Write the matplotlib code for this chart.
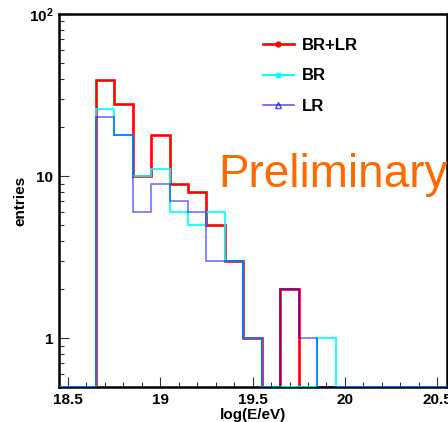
import numpy as np
import matplotlib
matplotlib.use("Agg")
import matplotlib.pyplot as plt
from matplotlib.lines import Line2D
from matplotlib.ticker import LogLocator, NullFormatter

plt.rcParams['font.family'] = ['Liberation Sans', 'DejaVu Sans']
plt.rcParams['mathtext.fontset'] = 'custom'
plt.rcParams['mathtext.bf'] = 'Liberation Sans:bold'
plt.rcParams['mathtext.rm'] = 'Liberation Sans:bold'

# 0.1-wide bins in log10(E/eV), 18.45 .. 20.55
bin_edges = np.round(np.arange(18.45, 20.56, 0.1), 2)
entries_br_lr = [0, 0, 39, 28, 10, 18, 9, 8, 5, 3, 1, 0, 2, 0, 0, 0, 0, 0, 0, 0, 0]
entries_br = [0, 0, 26, 18, 10, 11, 6, 5, 6, 3, 1, 0, 0, 0, 1, 0, 0, 0, 0, 0, 0]
entries_lr = [0, 0, 23, 18, 6, 9, 7, 6, 3, 3, 1, 0, 2, 1, 0, 0, 0, 0, 0, 0, 0]

YMIN, YMAX = 0.5, 100.0

fig = plt.figure(figsize=(4.48, 4.22), dpi=100)
ax = fig.add_axes([58.8 / 448, 35 / 422, (446.5 - 58.8) / 448, (387 - 14) / 422])
ax.set_yscale('log')


def draw_hist(vals, **kw):
    # empty bins sit on the lower frame edge, like ROOT's log view
    v = np.clip(np.asarray(vals, dtype=float), YMIN, None)
    ax.stairs(v, bin_edges, baseline=None, **kw)


draw_hist(entries_br_lr, color='#ff0000', lw=1.9, zorder=2)
draw_hist(entries_br, color='#00ffff', lw=1.5, alpha=0.85, zorder=3)
draw_hist(entries_lr, color='#0000ff', lw=1.1, alpha=0.6, zorder=4)

ax.set_xlim(18.45, 20.55)
ax.set_ylim(YMIN, YMAX)

ax.set_xticks([18.5, 19, 19.5, 20, 20.5], ['18.5', '19', '19.5', '20', '20.5'])
ax.set_xticks(np.arange(18.5, 20.55, 0.1), minor=True)
ax.set_yticks([1, 10, 100], ['1', '10', r'$\mathbf{10^{2}}$'])
ax.yaxis.set_minor_locator(LogLocator(base=10, subs=np.arange(2, 10)))
ax.yaxis.set_minor_formatter(NullFormatter())

ax.tick_params(which='both', direction='in', top=False, right=False,
               width=0.8, color='#333333')
ax.tick_params(which='major', length=7.5, labelsize=11, pad=4)
ax.tick_params(which='minor', length=3.8)
for lab in ax.get_xticklabels() + ax.get_yticklabels():
    lab.set_fontweight('bold')
for sp in ax.spines.values():
    sp.set_linewidth(1.8)

ax.set_xlabel('log(E/eV)', fontsize=11, fontweight='bold', labelpad=1)
ax.set_ylabel('entries', fontsize=11, fontweight='bold')
ax.yaxis.set_label_coords(-0.08, 0.5)

handles = [
    Line2D([], [], color='#ff0000', lw=1.9, marker='o', ms=3.5),
    Line2D([], [], color='#00ffff', lw=1.5, marker='s', ms=2.5),
    Line2D([], [], color='#0000ff', lw=1.1, alpha=0.7, marker='^', ms=4,
           mfc='none'),
]
ax.legend(handles, ['BR+LR', 'BR', 'LR'], loc='upper left',
          bbox_to_anchor=(0.487, 0.977), frameon=False, handlelength=1.9,
          handletextpad=0.45, labelspacing=0.95,
          prop={'family': 'Liberation Sans', 'weight': 'bold', 'size': 12})

fig.text(218 / 448, 1 - 187 / 422, 'Preliminary', color='#ff6a00',
         fontsize=33, va='baseline', ha='left')

fig.savefig('out.png', dpi=100)
